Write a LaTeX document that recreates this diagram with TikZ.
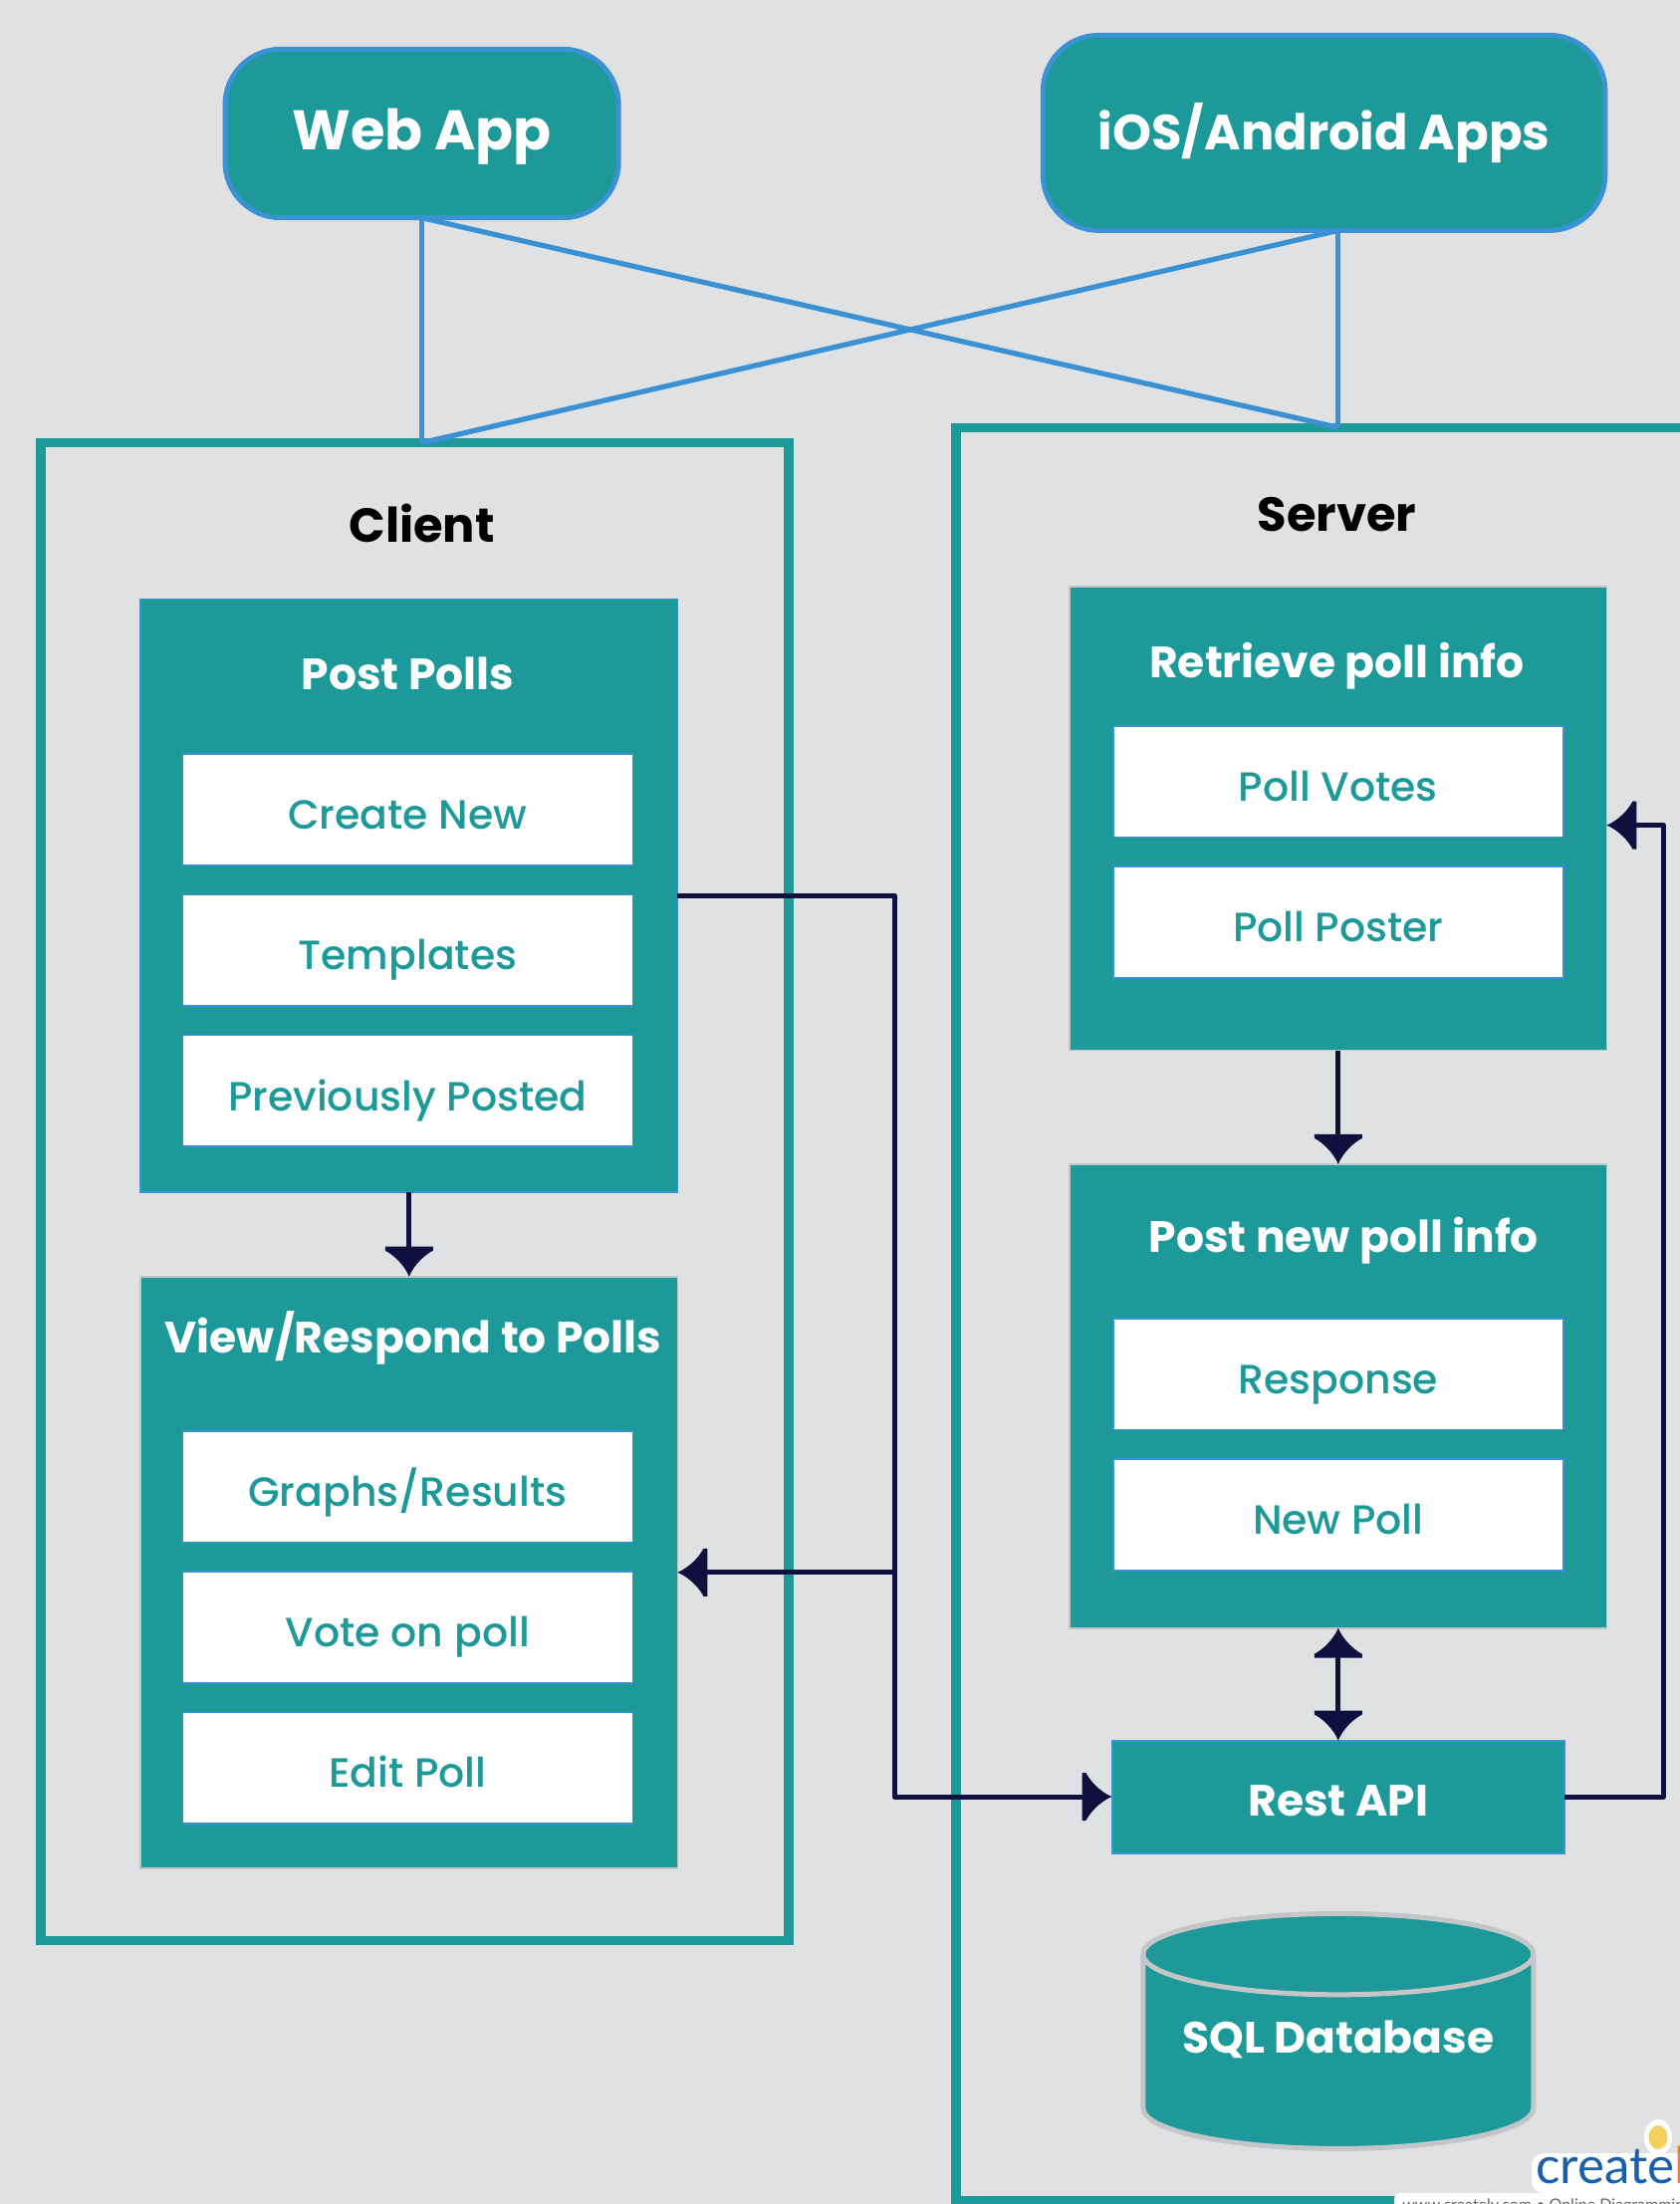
\documentclass[tikz,border=0pt]{standalone}
\usepackage{fontspec}
\setmainfont{Poppins}
\newfontfamily\itemfont{Poppins Medium}
\newfontfamily\logofont{Lato}
\usetikzlibrary{calc,shapes.geometric}
\definecolor{bg}{HTML}{E0E1E3}
\definecolor{tealbox}{HTML}{1E9999}
\definecolor{blueline}{HTML}{3A92D4}
\definecolor{navy}{HTML}{10103F}
\definecolor{greyedge}{HTML}{C4C5C7}
\definecolor{logoblue}{HTML}{1B5FAA}
\definecolor{bulbyellow}{HTML}{F5D060}
\pgfdeclarearrow{
    name = flare,
    setup code = {
        \pgfarrowssettipend{15pt}
        \pgfarrowssetlineend{2pt}
        \pgfarrowssetvisualbackend{0pt}
        \pgfarrowssetbackend{0pt}
    },
    drawing code = {
        \pgfpathmoveto{\pgfpoint{15pt}{0pt}}
        \pgfpathcurveto{\pgfpoint{9pt}{2.5pt}}{\pgfpoint{4pt}{8pt}}{\pgfpoint{2pt}{12pt}}
        \pgfpathlineto{\pgfpoint{0pt}{12pt}}
        \pgfpathlineto{\pgfpoint{0pt}{-12pt}}
        \pgfpathlineto{\pgfpoint{2pt}{-12pt}}
        \pgfpathcurveto{\pgfpoint{4pt}{-8pt}}{\pgfpoint{9pt}{-2.5pt}}{\pgfpoint{15pt}{0pt}}
        \pgfpathclose
        \pgfusepathqfill
    }
}
\tikzset{
    app/.style =    {rectangle,
                    rounded corners=28pt,
                    fill=tealbox,
                    draw=blueline,
                    text=white,
                    line width=2.5pt,
                    outer sep=0pt},
    panel/.style =  {rectangle,
                    fill=tealbox,
                    draw=greyedge,
                    line width=.8pt,
                    outer sep=0pt,
                    minimum width=269.6pt,
                    minimum height=232.9pt},
    item/.style =   {rectangle,
                    fill=white,
                    draw=blueline,
                    text=tealbox,
                    line width=.8pt,
                    outer sep=0pt,
                    minimum width=226pt,
                    minimum height=55.8pt,
                    text depth=.4pt,
                    text height=20pt,
                    font=\itemfont\fontsize{20.5}{24}\selectfont},
    heading/.style = {text=white,
                    font=\fontsize{22}{26}\selectfont\bfseries},
    caption/.style = {text=black,
                    font=\fontsize{24}{28}\selectfont\bfseries},
    framing/.style = {draw=tealbox,
                    line width=4.6pt,
                    fill=none,
                    outer sep=0pt},
    link/.style =   {draw=blueline,
                    line width=2.6pt},
    flow/.style =   {draw=navy,
                    line width=2.5pt,
                    line join=round},
    >=flare,
    node distance=70.6pt}
\begin{document}
\begin{tikzpicture}[x=1pt,y=-1pt]
    \useasboundingbox (0,0) rectangle (843.5,1106.5);
    \clip (0,0) rectangle (843.5,1106.5);
    \fill[bg] (0,0) rectangle (843.5,1106.5);
    % outer frames
    \node[framing,minimum width=375.5pt,minimum height=751.7pt] (clientframe) [] at (208.2,598.2) {};
    \draw[framing] (850,214.6) -- (480,214.6) -- (480,1104.6) -- (850,1104.6);
    \coordinate (clienttop) at (211.8,222.3);
    \coordinate (servertop) at (671.9,214.6);
    % apps
    \node[app,minimum width=197.6pt,minimum height=84.7pt,text height=20pt,text depth=4pt,font=\fontsize{28}{32}\selectfont\bfseries] (web) [] at (211.8,67) {Web App};
    \node[app,minimum width=282.3pt,minimum height=98pt,font=\fontsize{24.8}{28}\selectfont\bfseries] (ios) [] at (664.8,66.7) {iOS/Android Apps};
    \path [link]    (web.south) edge [] (clienttop)
                    (web.south) edge [] (servertop)
                    (ios.south -| servertop) edge [] (servertop)
                    (ios.south -| servertop) edge [] (clienttop);
    \node[caption] (client) [] at (211.8,262.5) {Client};
    \node[caption] (server) [] at (671.2,258.3) {Server};
    % client side
    \node[panel,draw=blueline,minimum height=297.8pt] (post) [] at (205.4,449.6) {};
    \node[heading] (posttitle) [] at (204.7,338.1) {Post Polls};
    \node[item] (create) [] at (204.7,406.5) {Create New};
    \node[item] (templates) [below of=create] {Templates};
    \node[item] (previous) [below of=templates] {Previously Posted};
    \node[panel,minimum height=297.1pt] (view) [] at (205.4,789.4) {};
    \node[heading] (viewtitle) [] at (207.5,671.9) {View/Respond to Polls};
    \node[item] (graphs) [] at (204.7,746.4) {Graphs/Results};
    \node[item] (vote) [below of=graphs] {Vote on poll};
    \node[item] (edit) [below of=vote] {Edit Poll};
    % server side
    \node[panel] (retrieve) [] at (671.9,410.8) {};
    \node[heading] (retrievetitle) [] at (671.2,334.4) {Retrieve poll info};
    \node[item] (votes) [] at (671.9,392.4) {Poll Votes};
    \node[item] (poster) [below of=votes] {Poll Poster};
    \node[panel] (postnew) [] at (671.9,700.9) {};
    \node[heading] (postnewtitle) [] at (674.7,622.9) {Post new poll info};
    \node[item] (response) [] at (671.9,689.9) {Response};
    \node[item] (newpoll) [below of=response] {New Poll};
    \node[rectangle,fill=tealbox,draw=blueline,line width=1pt,outer sep=0pt,minimum width=227.3pt,minimum height=56.5pt,heading,text height=19pt,text depth=0pt] (api) [] at (671.9,902) {Rest API};
    \node[cylinder,shape border rotate=90,shape aspect=.26,cylinder uses custom fill,cylinder body fill=tealbox,cylinder end fill=tealbox,draw=greyedge,line width=2.5pt,minimum width=196pt,minimum height=118pt,inner sep=0pt,heading,text depth=16pt] (db) [] at (671.9,1030.5) {SQL Database};
    % connectors
    \coordinate (bus) at (449,0);
    \coordinate (loop) at (835,0);
    \draw[flow,->] (post.south) -- (view.north);
    \draw[flow,->] (post.east) -- (post.east -| bus) |- (api.west);
    \draw[flow,->] (view.east -| bus) -- (view.east);
    \draw[flow,->] (api.east) -- (api.east -| loop) |- ([yshift=-3.5pt]retrieve.east);
    \draw[flow,->] (retrieve.south) -- (postnew.north);
    \draw[flow,<->] (postnew.south) -- (api.north);
    % logo
    \fill[white,rounded corners=6pt] (769,1081) rectangle (850,1101);
    \fill[white,rounded corners=3pt] (700,1101) rectangle (850,1110);
    \node[ellipse,fill=white,minimum width=14pt,minimum height=18pt,inner sep=0pt] (halo) [] at (832.5,1073) {};
    \node[ellipse,fill=bulbyellow,minimum width=9.5pt,minimum height=12pt,inner sep=0pt] (bulb) [] at (832.5,1073) {};
    \node[anchor=base west,inner sep=0pt,text=logoblue,font=\logofont\fontsize{25.5}{25.5}\selectfont] (logo) [] at (771,1096) {create\textcolor{orange}{l}};
    \node[anchor=north west,inner sep=0pt,text=black!60,font=\logofont\fontsize{8}{8}\selectfont] (site) [] at (704,1103.5) {www.creately.com • Online Diagramming};
\end{tikzpicture}
\end{document}
